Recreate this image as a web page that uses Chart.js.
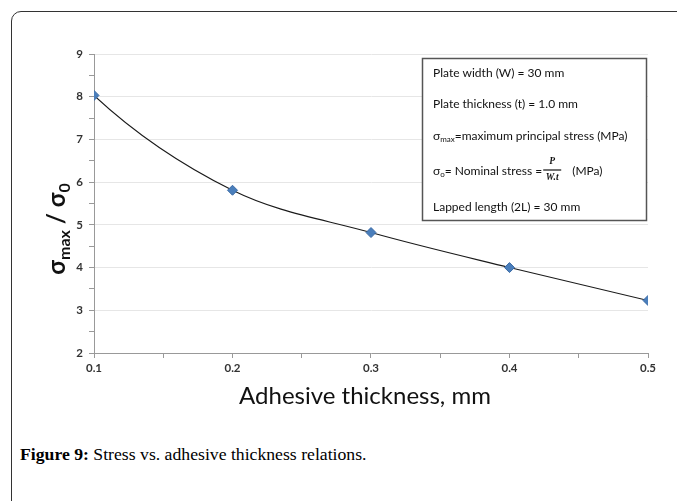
<!DOCTYPE html>
<html><head><meta charset="utf-8">
<script src="https://cdn.jsdelivr.net/npm/chart.js@4/dist/chart.umd.min.js"></script>
<style>
html,body{margin:0;padding:0;background:#fff;overflow:hidden;}
#page{position:absolute;left:0;top:0;width:677px;height:501px;overflow:hidden;}
#frame{position:absolute;left:11px;top:11px;width:800px;height:700px;border:1px solid #333;border-radius:10px;box-sizing:border-box;}
#wrap{position:absolute;left:0;top:0;width:677px;height:420px;}
#cap{position:absolute;left:20px;top:444px;font-family:"Liberation Serif","DejaVu Serif",serif;font-size:17.7px;color:#000;white-space:nowrap;}
#cap b{font-weight:bold;}
</style></head>
<body>
<div id="page">
<div id="frame"></div>
<div id="wrap"><canvas id="c" width="677" height="420"></canvas></div>
<div id="cap"><b>Figure 9:</b> Stress vs. adhesive thickness relations.</div>
</div>
<script>
const thickness = [0.1, 0.2, 0.3, 0.4, 0.5];
const stressRatio = [8.03, 5.81, 4.82, 4.0, 3.23];
const xTitle = 'Adhesive thickness, mm';
const infoLines = ['Plate width (W) = 30 mm', 'Plate thickness (t) = 1.0 mm', 'maximum principal stress (MPa)', 'Nominal stress', 'Lapped length (2L) = 30 mm'];

const FONT = 'Lato, "Open Sans", sans-serif';

// Smooth the end segments like a spreadsheet "smoothed line" (parabolic end conditions)
const endSmoothing = {
  id: 'endSmoothing',
  beforeDatasetDraw(chart, args) {
    const meta = args.meta;
    if (!meta.dataset) return;
    meta.dataset.updateControlPoints(chart.chartArea, meta.iScale.axis);
    const pts = meta.data;
    const n = pts.length;
    if (n < 3) return;
    const a = pts[0], b = pts[1];
    let qx = b.x + 1.5 * (b.cp1x - b.x), qy = b.y + 1.5 * (b.cp1y - b.y);
    a.cp2x = a.x + 2 / 3 * (qx - a.x); a.cp2y = a.y + 2 / 3 * (qy - a.y);
    const z = pts[n - 1], y = pts[n - 2];
    qx = y.x + 1.5 * (y.cp2x - y.x); qy = y.y + 1.5 * (y.cp2y - y.y);
    z.cp1x = z.x + 2 / 3 * (qx - z.x); z.cp1y = z.y + 2 / 3 * (qy - z.y);
  }
};

const overlay = {
  id: 'overlay',
  afterDraw(chart) {
    const ctx = chart.ctx;
    ctx.save();
    // x title
    ctx.fillStyle = '#111';
    ctx.font = '24px ' + FONT;
    ctx.textAlign = 'center';
    ctx.textBaseline = 'middle';
    ctx.fillText(xTitle, 365, 396);
    // y title with subscripts
    const segs = [
      {t: 'σ', f: 'bold 24px ' + FONT, dy: 0},
      {t: 'max', f: 'bold 16px ' + FONT, dy: 5},
      {t: ' / σ', f: 'bold 24px ' + FONT, dy: 0},
      {t: '0', f: 'bold 16px ' + FONT, dy: 5}
    ];
    let tw = 0;
    segs.forEach(s => { ctx.font = s.f; s.w = ctx.measureText(s.t).width; tw += s.w; });
    ctx.translate(57, 229);
    ctx.rotate(-Math.PI / 2);
    ctx.textAlign = 'left';
    ctx.textBaseline = 'alphabetic';
    let x = -tw / 2;
    segs.forEach(s => { ctx.font = s.f; ctx.fillText(s.t, x, 8 + s.dy); x += s.w; });
    ctx.setTransform(1, 0, 0, 1, 0, 0);
    // info box
    const bx = 422.5, by = 58.5, bw = 224, bh = 162;
    ctx.fillStyle = '#fff';
    ctx.fillRect(bx, by, bw, bh);
    ctx.strokeStyle = '#555';
    ctx.lineWidth = 1.5;
    ctx.strokeRect(bx, by, bw, bh);
    ctx.fillStyle = '#111';
    ctx.textAlign = 'left';
    ctx.textBaseline = 'middle';
    const tx = 433;
    const f = '12px ' + FONT, fs = '8px ' + FONT;
    ctx.font = f;
    ctx.fillText(infoLines[0], tx, 73);
    ctx.fillText(infoLines[1], tx, 104);
    let cx = tx;
    ctx.fillText('σ', cx, 136); cx += ctx.measureText('σ').width;
    ctx.font = fs; ctx.fillText('max', cx, 139); cx += ctx.measureText('max').width;
    ctx.font = f; ctx.fillText('=' + infoLines[2], cx, 136);
    cx = tx;
    ctx.fillText('σ', cx, 171); cx += ctx.measureText('σ').width;
    ctx.font = fs; ctx.fillText('o', cx, 174); cx += ctx.measureText('o').width;
    ctx.font = f;
    const s2 = '= ' + infoLines[3] + ' =';
    ctx.fillText(s2, cx, 171); cx += ctx.measureText(s2).width + 1;
    ctx.beginPath(); ctx.lineWidth = 1.2; ctx.strokeStyle = '#111';
    ctx.moveTo(cx, 170); ctx.lineTo(cx + 18, 170); ctx.stroke();
    ctx.textAlign = 'center';
    ctx.font = 'italic bold 9.5px "Liberation Serif", serif';
    ctx.fillText('P', cx + 9, 162);
    ctx.fillText('W.t', cx + 9, 178);
    ctx.textAlign = 'left';
    ctx.font = f;
    ctx.fillText('(MPa)', cx + 29, 171);
    ctx.fillText(infoLines[4], tx, 207);
    ctx.restore();
  }
};

new Chart(document.getElementById('c'), {
  type: 'line',
  data: {
    datasets: [{
      data: thickness.map((t, i) => ({x: t, y: stressRatio[i]})),
      borderColor: '#1a1a1a',
      borderWidth: 1.1,
      tension: 0.35,
      pointStyle: 'rectRot',
      pointRadius: 5,
      pointBackgroundColor: '#4A7EBB',
      pointBorderColor: '#3A6AA5',
      pointBorderWidth: 1,
      fill: false
    }]
  },
  options: {
    responsive: false,
    animation: false,
    events: [],
    layout: {padding: {left: 0, top: 54, right: 29, bottom: 0}},
    plugins: {legend: {display: false}, tooltip: {enabled: false}},
    scales: {
      x: {
        type: 'linear', min: 0.1, max: 0.5,
        afterFit(s) { s.height = 67; },
        ticks: {
          stepSize: 0.05, autoSkip: false, maxRotation: 0, padding: 3,
          color: '#333', font: {family: FONT, size: 11.5, weight: 'bold'},
          callback(v) { const k = Math.round(v * 100); return k % 10 === 0 ? (k / 100).toFixed(1) : ''; }
        },
        grid: {drawOnChartArea: false, color: '#999', tickColor: '#999', tickLength: 5},
        border: {color: '#999', width: 1}
      },
      y: {
        min: 2, max: 9,
        afterFit(s) { s.width = 94; },
        ticks: {
          stepSize: 0.5, autoSkip: false, padding: 6,
          color: '#333', font: {family: FONT, size: 11.5, weight: 'bold'},
          callback(v) { return Number.isInteger(v) ? String(v) : ''; }
        },
        grid: {
          color(ctx) { const v = ctx.tick ? ctx.tick.value : 0; return Number.isInteger(v) && v !== 2 ? '#e6e6e6' : 'rgba(0,0,0,0)'; },
          tickColor: '#999', tickLength: 5, lineWidth: 1
        },
        border: {color: '#999', width: 1}
      }
    }
  },
  plugins: [endSmoothing, overlay]
});
</script>
</body></html>
